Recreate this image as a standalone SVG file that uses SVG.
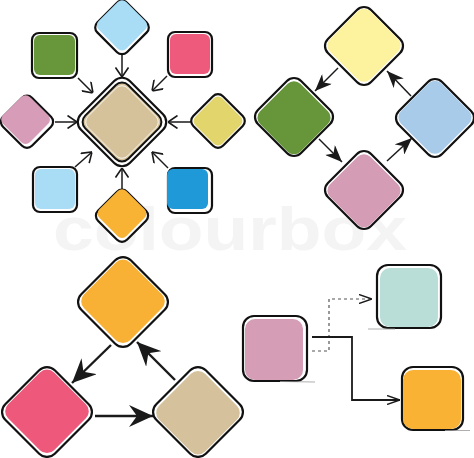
<svg xmlns="http://www.w3.org/2000/svg" width="474" height="458" viewBox="0 0 474 458">
<style>
.ol{fill:#fff;stroke:#111;stroke-width:2.2}
.ln{fill:none;stroke:#1a1a1a;stroke-width:1.5}
.ln2{fill:none;stroke:#1a1a1a;stroke-width:2.4}
.sk{stroke:#999;stroke-width:0.8;fill:none}
.wm{font-family:"Liberation Sans",Arial,sans-serif;font-weight:bold;font-size:62px;fill:#f4f4f4}
</style>
<defs>
<marker id="m1" viewBox="0 0 10 14" refX="10" refY="7" markerWidth="10" markerHeight="14" markerUnits="userSpaceOnUse" orient="auto"><path d="M0.5,0.5 L10,7 L0.5,13.5" fill="none" stroke="#1a1a1a" stroke-width="1.6"/></marker>
<marker id="m2" viewBox="0 0 17 14" refX="17" refY="7" markerWidth="17" markerHeight="14" markerUnits="userSpaceOnUse" orient="auto"><path d="M0,0 L17,7 L0,14 L5,7 Z" fill="#1a1a1a"/></marker>
<marker id="m3" viewBox="0 0 24 22" refX="24" refY="11" markerWidth="24" markerHeight="22" markerUnits="userSpaceOnUse" orient="auto"><path d="M0,0 L24,11 L0,22 L8,11 Z" fill="#1a1a1a"/></marker>
<marker id="m4" viewBox="0 0 13 10" refX="13" refY="5" markerWidth="13" markerHeight="10" markerUnits="userSpaceOnUse" orient="auto"><path d="M0,0.5 L13,5 L0,9.5" fill="none" stroke="#1a1a1a" stroke-width="1.4"/></marker>
</defs>
<rect width="474" height="458" fill="#fff"/>
<text class="wm" x="53" y="250" textLength="354" lengthAdjust="spacingAndGlyphs">colourbox</text>

<g id="connectors">
<line class="ln" x1="122" y1="55" x2="122" y2="77" marker-end="url(#m1)"/>
<line class="ln" x1="78" y1="78" x2="93" y2="93" marker-end="url(#m1)"/>
<line class="ln" x1="167" y1="76" x2="152" y2="91" marker-end="url(#m1)"/>
<line class="ln" x1="55" y1="122" x2="77" y2="122" marker-end="url(#m1)"/>
<line class="ln" x1="192" y1="122" x2="168" y2="122" marker-end="url(#m1)"/>
<line class="ln" x1="75" y1="167" x2="92" y2="152" marker-end="url(#m1)"/>
<line class="ln" x1="168" y1="168" x2="152" y2="152" marker-end="url(#m1)"/>
<line class="ln" x1="122" y1="192" x2="122" y2="168" marker-end="url(#m1)"/>

<line class="ln" x1="338" y1="68" x2="315" y2="91" marker-end="url(#m2)"/>
<line class="ln" x1="319" y1="139" x2="342" y2="162" marker-end="url(#m2)"/>
<line class="ln" x1="387" y1="161" x2="412" y2="138" marker-end="url(#m2)"/>
<line class="ln" x1="411" y1="96" x2="387" y2="71" marker-end="url(#m2)"/>

<line class="ln2" x1="111" y1="345" x2="72" y2="383" marker-end="url(#m3)"/>
<line class="ln2" x1="95" y1="416" x2="153" y2="416" marker-end="url(#m3)"/>
<line class="ln2" x1="175" y1="380" x2="137" y2="342" marker-end="url(#m3)"/>

<polyline points="312,351 329,351 329,299 372,299" fill="none" stroke="#555" stroke-width="1.2" stroke-dasharray="3,3" marker-end="url(#m4)"/>
<polyline points="312,337 352,337 352,400 400,400" fill="none" stroke="#1a1a1a" stroke-width="1.8" marker-end="url(#m4)"/>
</g>

<!-- cluster 1 -->
<g id="c1-center" transform="translate(122,122) rotate(45)">
<rect class="ol" x="-34.5" y="-34.5" width="69" height="69" rx="11" stroke-width="2.6"/>
<rect x="-30.5" y="-30.5" width="61" height="61" rx="9" fill="#d5c29b" stroke="#111" stroke-width="2"/>
<rect x="-28" y="-28" width="56" height="56" rx="8" fill="none" stroke="#fff" stroke-width="0.8"/>
</g>
<g id="c1-top" transform="translate(122,26) rotate(45)">
<rect class="ol" x="-20" y="-20" width="42" height="42" rx="7"/>
<rect x="-20" y="-20" width="39" height="39" rx="6" fill="#a9dcf5"/>
</g>
<g id="c1-green">
<rect class="ol" x="32" y="33" width="45" height="45" rx="7"/>
<rect x="34" y="35" width="41" height="40" rx="6" fill="#68963a"/>
</g>
<g id="c1-red">
<rect class="ol" x="168" y="32" width="44" height="45" rx="7"/>
<rect x="170" y="34" width="40" height="40" rx="6" fill="#ee5a7c"/>
</g>
<g id="c1-left" transform="translate(27,121) rotate(45)">
<rect class="ol" x="-20" y="-20" width="41" height="41" rx="7"/>
<rect x="-21" y="-19" width="38" height="38" rx="6" fill="#d69cb8"/>
</g>
<g id="c1-right" transform="translate(218,121) rotate(45)">
<rect class="ol" x="-21" y="-21" width="42" height="42" rx="7"/>
<rect x="-19" y="-19" width="38" height="38" rx="6" fill="#e1d56b"/>
</g>
<g id="c1-lightblue">
<rect class="ol" x="33" y="167" width="44" height="45" rx="7"/>
<rect x="35" y="169" width="40" height="40" rx="6" fill="#a9dcf5"/>
</g>
<g id="c1-blue">
<rect class="ol" x="168" y="168" width="44" height="45" rx="7"/>
<rect x="167" y="169" width="41" height="40" rx="6" fill="#1f99d7"/>
</g>
<g id="c1-bottom" transform="translate(122,215) rotate(45)">
<rect class="ol" x="-20" y="-20" width="41" height="41" rx="7"/>
<rect x="-20" y="-20" width="38" height="38" rx="6" fill="#f8b334"/>
</g>

<!-- cluster 2 -->
<g id="c2-yellow" transform="translate(364,46) rotate(45)">
<rect class="ol" x="-30.5" y="-30.5" width="61" height="61" rx="10"/>
<rect x="-29" y="-29" width="57" height="57" rx="9" fill="#fdf29d"/>
</g>
<g id="c2-green" transform="translate(294,117) rotate(45)">
<rect class="ol" x="-30.5" y="-30.5" width="61" height="61" rx="10"/>
<rect x="-28" y="-28" width="57" height="57" rx="9" fill="#67953a"/>
</g>
<g id="c2-blue" transform="translate(435,118) rotate(45)">
<rect class="ol" x="-30.5" y="-30.5" width="61" height="61" rx="10"/>
<rect x="-29" y="-29" width="57" height="57" rx="9" fill="#a9cbea"/>
</g>
<g id="c2-pink" transform="translate(364,190) rotate(45)">
<rect class="ol" x="-30.5" y="-30.5" width="61" height="61" rx="10"/>
<rect x="-28" y="-28" width="57" height="57" rx="9" fill="#d59cb6"/>
</g>

<!-- cluster 3 -->
<g id="c3-orange" transform="translate(123,302) rotate(45)">
<rect class="ol" x="-35" y="-35" width="70" height="70" rx="11" stroke-width="2.5"/>
<rect x="-33" y="-33" width="65" height="65" rx="10" fill="#f8b134"/>
</g>
<g id="c3-pink" transform="translate(47,412) rotate(45)">
<rect class="ol" x="-35" y="-35" width="70" height="70" rx="11" stroke-width="2.5"/>
<rect x="-33" y="-33" width="65" height="65" rx="10" fill="#ee597b"/>
</g>
<g id="c3-tan" transform="translate(198,412) rotate(45)">
<rect class="ol" x="-35" y="-35" width="70" height="70" rx="11" stroke-width="2.5"/>
<rect x="-32" y="-32" width="65" height="65" rx="10" fill="#d5c29c"/>
</g>

<!-- cluster 4 -->
<g id="c4-pink">
<rect class="ol" x="243" y="316" width="64" height="65" rx="11" stroke-width="2"/>
<rect x="245" y="319" width="58" height="61" rx="10" fill="#d59db6"/>
<path class="sk" d="M280,381.5 L315,382"/>
</g>
<g id="c4-teal">
<rect class="ol" x="377" y="265" width="64" height="63" rx="11" stroke-width="2"/>
<rect x="380" y="268" width="58" height="59" rx="10" fill="#b9ddd7"/>
<path class="sk" d="M368,329 L395,329"/>
</g>
<g id="c4-orange">
<rect class="ol" x="402" y="367" width="61" height="63" rx="11" stroke-width="2"/>
<rect x="403" y="370" width="58" height="59" rx="10" fill="#f9b233"/>
<path class="sk" d="M445,430.5 L470,430.5"/>
</g>
</svg>
